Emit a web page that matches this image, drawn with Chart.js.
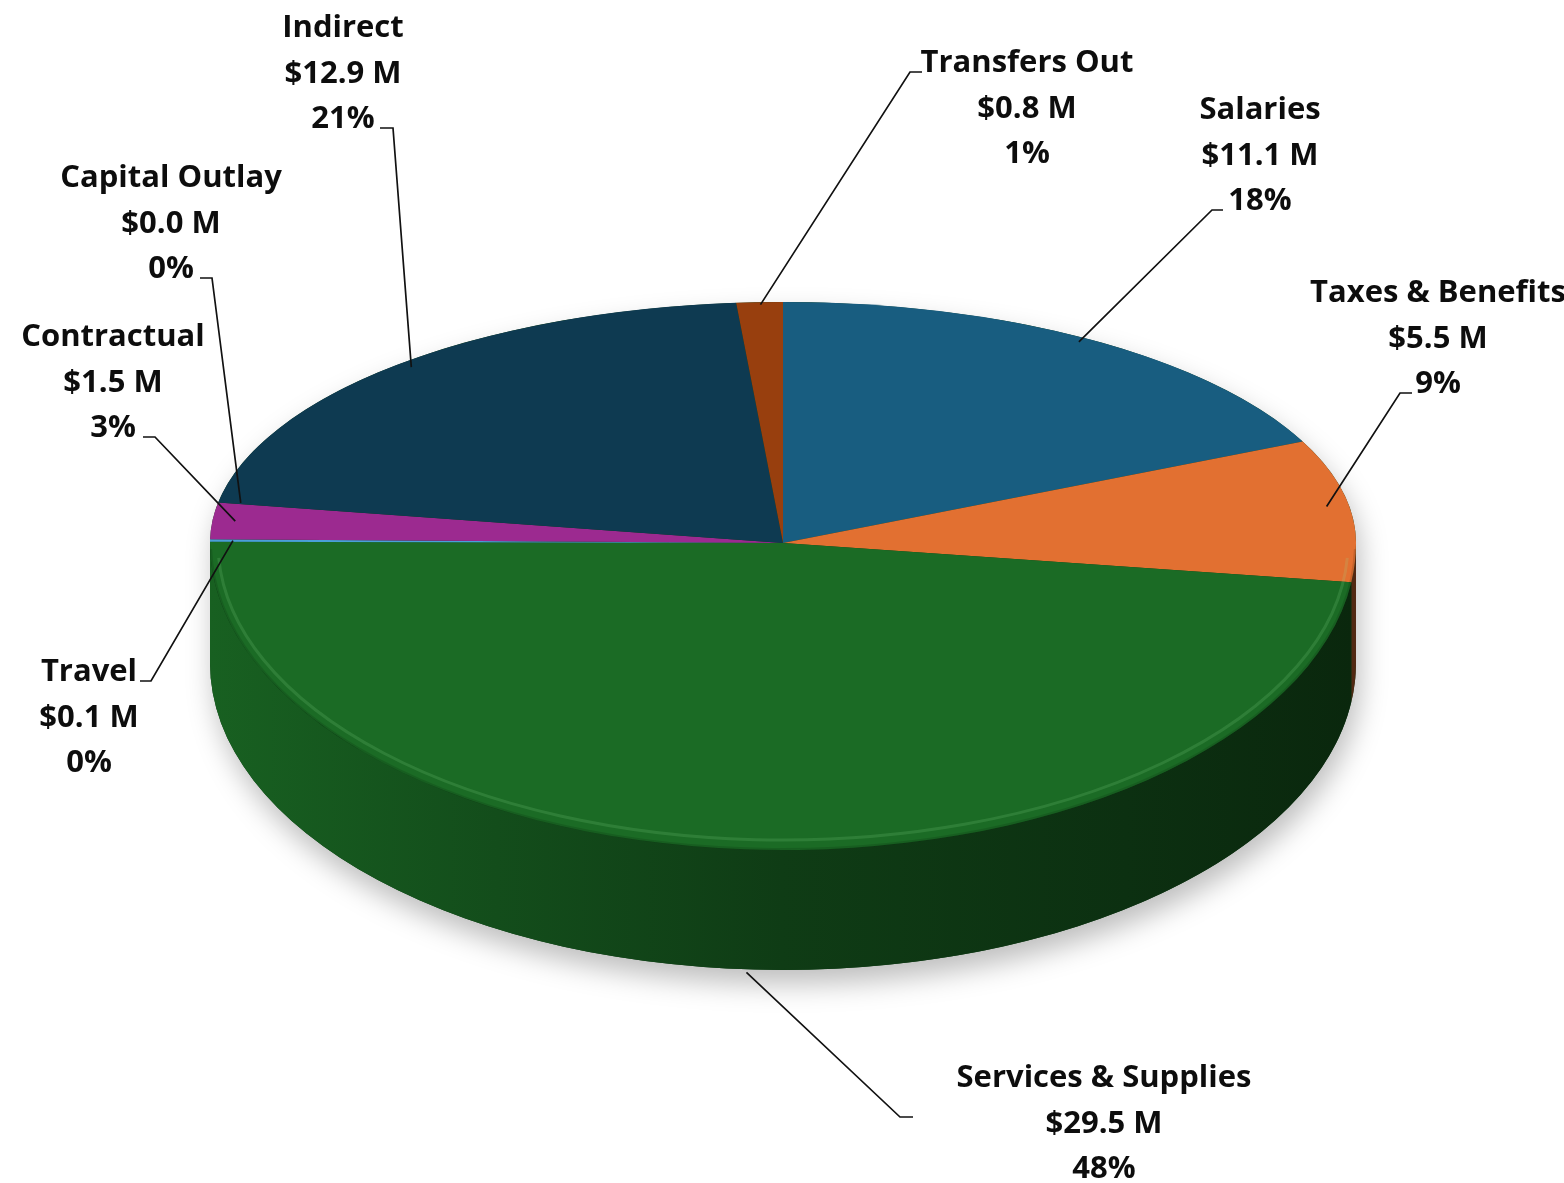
<!DOCTYPE html>
<html>
<head>
<meta charset="utf-8">
<script src="https://cdn.jsdelivr.net/npm/chart.js@4/dist/chart.umd.min.js"></script>
<style>
  html, body { margin: 0; padding: 0; background: #fff; }
  #pie3d { display: block; }
</style>
</head>
<body>
<canvas id="pie3d" width="1564" height="1183"></canvas>
<script>
// data, clockwise from 12 o'clock
const categories = ['Salaries', 'Taxes & Benefits', 'Services & Supplies', 'Travel', 'Contractual', 'Capital Outlay', 'Indirect', 'Transfers Out'];
const amounts = [11.1, 5.5, 29.5, 0.1, 1.5, 0.0, 12.9, 0.8];   // $ M
const pctLabels = ['18%', '9%', '48%', '0%', '3%', '0%', '21%', '1%'];

const colors = ['#185d80', '#e27031', '#1b6b25', '#4aa0d8', '#9c2a90', '#7f7f7f', '#0e3a51', '#983f0e'];

// label placement: centre x, first baseline, leader hook [textSideX, y, bendX]
const labelLayout = [
  { x: 1260, b: 119, hook: [1223, 210, 1212] },
  { x: 1438, b: 302, hook: [1412, 393, 1400] },
  { x: 1104, b: 1087, hook: [913, 1117, 900] },
  { x: 89,   b: 681, hook: [140, 681, 151] },
  { x: 113,  b: 346, hook: [143, 437, 155] },
  { x: 171,  b: 187, hook: [200, 278, 212] },
  { x: 343,  b: 37,  hook: [380, 128, 393] },
  { x: 1027, b: 72,  hook: [922, 72, 910] }
];

// 3d look
const screenCY = 543;     // where the slices meet on screen
const topRy = 241;        // back half of ellipse
const botRy = 307;        // front half (perspective)
const depth = 120;
const lineGap = 45.5;

function shade(hex, f) {
  const n = parseInt(hex.slice(1), 16);
  const r = Math.round(((n >> 16) & 255) * f);
  const g = Math.round(((n >> 8) & 255) * f);
  const b = Math.round((n & 255) * f);
  return `rgb(${r},${g},${b})`;
}

const pie3d = {
  id: 'pie3d',
  beforeDatasetsDraw(chart) {
    const ctx = chart.ctx;
    const meta = chart.getDatasetMeta(0);
    const a0 = meta.data[0];
    const cx = a0.x, cy = a0.y, R = a0.outerRadius;
    const kTop = topRy / R, kBot = botRy / R;
    const W = chart.width, H = chart.height;

    // silhouette with soft shadow
    ctx.save();
    ctx.beginPath();
    ctx.ellipse(cx, screenCY, R, topRy, 0, Math.PI, 2 * Math.PI);
    ctx.lineTo(cx + R, screenCY + depth);
    ctx.ellipse(cx, screenCY + depth, R, botRy, 0, 0, Math.PI);
    ctx.closePath();
    ctx.shadowColor = 'rgba(0,0,0,0.26)';
    ctx.shadowBlur = 28;
    ctx.shadowOffsetY = 14;
    ctx.shadowOffsetX = 4;
    ctx.fillStyle = '#0e3b14';
    ctx.fill();
    ctx.restore();

    // side walls of the front half
    meta.data.forEach((arc, i) => {
      const a = Math.max(arc.startAngle, 0);
      const b = Math.min(arc.endAngle, Math.PI);
      if (b <= a) return;
      const g = ctx.createLinearGradient(cx - R, 0, cx + R, 0);
      g.addColorStop(0, shade(colors[i], 0.9));
      g.addColorStop(0.25, shade(colors[i], 0.72));
      g.addColorStop(0.5, shade(colors[i], 0.56));
      g.addColorStop(0.8, shade(colors[i], 0.45));
      g.addColorStop(1, shade(colors[i], 0.36));
      ctx.save();
      ctx.beginPath();
      ctx.ellipse(cx, screenCY, R, botRy, 0, a, b);
      ctx.ellipse(cx, screenCY + depth, R, botRy, 0, b, a, true);
      ctx.closePath();
      ctx.fillStyle = g;
      ctx.fill();
      ctx.restore();
    });

    // top face: back half and front half squashed differently
    [[0, screenCY, kTop], [screenCY, H - screenCY, kBot]].forEach(([y0, h, k]) => {
      ctx.save();
      ctx.beginPath();
      ctx.rect(0, y0, W, h);
      ctx.clip();
      ctx.translate(0, screenCY);
      ctx.scale(1, k);
      ctx.translate(0, -cy);
      meta.controller.draw();
      ctx.restore();
    });

    // soft bevel on the front rim
    ctx.save();
    ctx.beginPath();
    ctx.ellipse(cx, screenCY, R - 8, botRy - 10, 0, 0.05, Math.PI - 0.05);
    ctx.strokeStyle = 'rgba(150,230,150,0.16)';
    ctx.lineWidth = 3;
    ctx.stroke();
    ctx.beginPath();
    ctx.ellipse(cx, screenCY, R - 1, botRy - 1, 0, 0.02, Math.PI - 0.02);
    ctx.strokeStyle = 'rgba(0,0,0,0.12)';
    ctx.lineWidth = 2;
    ctx.stroke();
    ctx.restore();
    return false;
  },
  afterDraw(chart) {
    const ctx = chart.ctx;
    const meta = chart.getDatasetMeta(0);
    const a0 = meta.data[0];
    const cx = a0.x, R = a0.outerRadius;

    ctx.save();
    // leader lines
    ctx.strokeStyle = '#111';
    ctx.lineWidth = 1.7;
    meta.data.forEach((arc, i) => {
      const L = labelLayout[i];
      const t = (arc.startAngle + arc.endAngle) / 2;
      const s = Math.sin(t);
      let px = cx + R * 0.96 * Math.cos(t);
      let py = screenCY + (s < 0 ? topRy : botRy) * 0.99 * s;
      if (s > 0.5) py += depth + 6;
      ctx.beginPath();
      ctx.moveTo(L.hook[0], L.hook[1]);
      ctx.lineTo(L.hook[2], L.hook[1]);
      ctx.lineTo(px, py);
      ctx.stroke();
    });

    // data labels
    ctx.fillStyle = '#0d0d0d';
    ctx.font = 'bold 31px "Open Sans"';
    ctx.textAlign = 'center';
    ctx.textBaseline = 'alphabetic';
    categories.forEach((name, i) => {
      const L = labelLayout[i];
      const lines = [name, '$' + amounts[i].toFixed(1) + ' M', pctLabels[i]];
      lines.forEach((txt, j) => ctx.fillText(txt, L.x, L.b + j * lineGap));
    });
    ctx.restore();
  }
};

const ctx = document.getElementById('pie3d').getContext('2d');
const myChart = new Chart(ctx, {
  type: 'pie',
  data: {
    labels: categories,
    datasets: [{
      data: amounts,
      backgroundColor: colors,
      borderWidth: 0
    }]
  },
  options: {
    responsive: false,
    animation: false,
    devicePixelRatio: 1,
    layout: {
      padding: { left: 210, right: 208, top: 18, bottom: 19 }
    },
    plugins: {
      legend: { display: false },
      tooltip: { enabled: false }
    }
  },
  plugins: [pie3d]
});
</script>
</body>
</html>
